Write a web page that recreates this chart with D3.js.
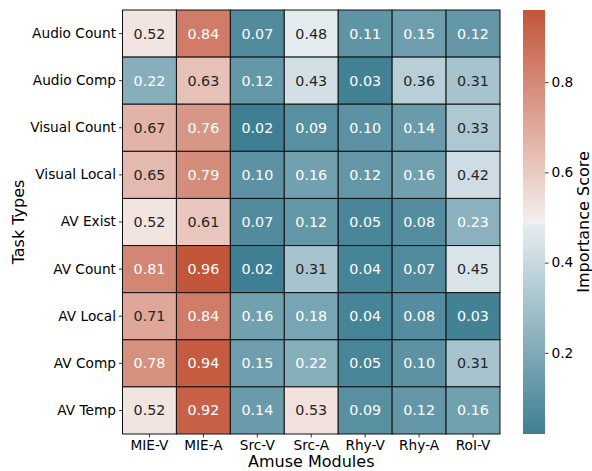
<!DOCTYPE html>
<html>
<head>
<meta charset="utf-8">
<script src="https://cdn.jsdelivr.net/npm/d3@7"></script>
<style>
  html, body { margin: 0; padding: 0; background: #fff; }
  svg { display: block; font-family: "DejaVu Sans", sans-serif; }
</style>
</head>
<body>
<svg id="chart" width="592" height="471"></svg>
<script>
const tasks = ["Audio Count", "Audio Comp", "Visual Count", "Visual Local", "AV Exist", "AV Count", "AV Local", "AV Comp", "AV Temp"];
const modules = ["MIE-V", "MIE-A", "Src-V", "Src-A", "Rhy-V", "Rhy-A", "RoI-V"];
const audioCount  = [0.52, 0.84, 0.07, 0.48, 0.11, 0.15, 0.12];
const audioComp   = [0.22, 0.63, 0.12, 0.43, 0.03, 0.36, 0.31];
const visualCount = [0.67, 0.76, 0.02, 0.09, 0.10, 0.14, 0.33];
const visualLocal = [0.65, 0.79, 0.10, 0.16, 0.12, 0.16, 0.42];
const avExist     = [0.52, 0.61, 0.07, 0.12, 0.05, 0.08, 0.23];
const avCount     = [0.81, 0.96, 0.02, 0.31, 0.04, 0.07, 0.45];
const avLocal     = [0.71, 0.84, 0.16, 0.18, 0.04, 0.08, 0.03];
const avComp      = [0.78, 0.94, 0.15, 0.22, 0.05, 0.10, 0.31];
const avTemp      = [0.52, 0.92, 0.14, 0.53, 0.09, 0.12, 0.16];
const colorbarTicks = [0.2, 0.4, 0.6, 0.8];

const rows = [audioCount, audioComp, visualCount, visualLocal, avExist, avCount, avLocal, avComp, avTemp];
const cells = [];
rows.forEach((r, i) => r.forEach((v, j) => cells.push({task: tasks[i], module: modules[j], value: v})));

const svg = d3.select("#chart");
const L = 122.5, R = 500, T = 10, B = 434;
const tickFont = "13.7px", annotFont = "14.3px", labelFont = "16px";

const x = d3.scaleBand().domain(modules).range([L, R]).padding(0);
const y = d3.scaleBand().domain(tasks).range([T, B]).padding(0);

const vmin = d3.min(cells, d => d.value), vmax = d3.max(cells, d => d.value);
const interp = d3.piecewise(d3.interpolateRgb, ["#3f7f93", "#e6edf0", "#f2f2f2", "#f5edeb", "#c3553a"]);
const piece = d3.scaleLinear().domain([0, 0.496, 0.5, 0.504, 1]).range([0, 0.25, 0.5, 0.75, 1]);
const color = v => interp(piece(Math.max(0, Math.min(1, (v - vmin) / (vmax - vmin)))));

function lum(c) {
  const rgb = d3.rgb(c);
  const f = u => { u /= 255; return u <= 0.03928 ? u / 12.92 : Math.pow((u + 0.055) / 1.055, 2.4); };
  return 0.2126 * f(rgb.r) + 0.7152 * f(rgb.g) + 0.0722 * f(rgb.b);
}

svg.append("g").selectAll("rect").data(cells).join("rect")
  .attr("x", d => x(d.module)).attr("y", d => y(d.task))
  .attr("width", x.bandwidth()).attr("height", y.bandwidth())
  .attr("fill", d => color(d.value))
  .attr("stroke", "#111").attr("stroke-width", 1);

svg.append("g").selectAll("text").data(cells).join("text")
  .attr("x", d => x(d.module) + x.bandwidth() / 2)
  .attr("y", d => y(d.task) + y.bandwidth() / 2)
  .attr("text-anchor", "middle").attr("dominant-baseline", "central")
  .attr("font-size", annotFont)
  .attr("fill", d => lum(color(d.value)) > 0.408 ? "#262626" : "#ffffff")
  .text(d => d.value.toFixed(2));

function styleAxis(g) {
  g.select(".domain").remove();
  g.selectAll("text").attr("font-size", tickFont).attr("fill", "#000").attr("font-family", "DejaVu Sans");
  g.selectAll("line").attr("stroke", "#000").attr("stroke-width", 0.8);
}

svg.append("g").attr("transform", `translate(0,${B})`)
  .call(d3.axisBottom(x).tickSize(3.5).tickPadding(3)).call(styleAxis);
svg.append("g").attr("transform", `translate(${L},0)`)
  .call(d3.axisLeft(y).tickSize(3.5).tickPadding(3)).call(styleAxis);

svg.append("text").attr("x", (L + R) / 2).attr("y", 467)
  .attr("text-anchor", "middle").attr("font-size", labelFont).attr("fill", "#000")
  .text("Amuse Modules");
svg.append("text").attr("transform", `translate(23.5,${(T + B) / 2}) rotate(-90)`)
  .attr("text-anchor", "middle").attr("font-size", labelFont).attr("fill", "#000")
  .text("Task Types");

// colorbar
const cbL = 523, cbR = 545;
const cy = d3.scaleLinear().domain([vmin, vmax]).range([B, T]);
const grad = svg.append("defs").append("linearGradient").attr("id", "cbgrad")
  .attr("x1", 0).attr("y1", 1).attr("x2", 0).attr("y2", 0);
d3.range(0, 1.0001, 0.01).forEach(t => {
  grad.append("stop").attr("offset", t).attr("stop-color", color(vmin + t * (vmax - vmin)));
});
svg.append("rect").attr("x", cbL).attr("y", T).attr("width", cbR - cbL).attr("height", B - T)
  .attr("fill", "url(#cbgrad)");
svg.append("g").attr("transform", `translate(${cbR},0)`)
  .call(d3.axisRight(cy).tickValues(colorbarTicks).tickFormat(d3.format(".1f")).tickSize(3.5).tickPadding(3))
  .call(styleAxis);
svg.append("text").attr("transform", `translate(588.5,${(T + B) / 2}) rotate(-90)`)
  .attr("text-anchor", "middle").attr("font-size", labelFont).attr("fill", "#000")
  .text("Importance Score");
</script>
</body>
</html>
